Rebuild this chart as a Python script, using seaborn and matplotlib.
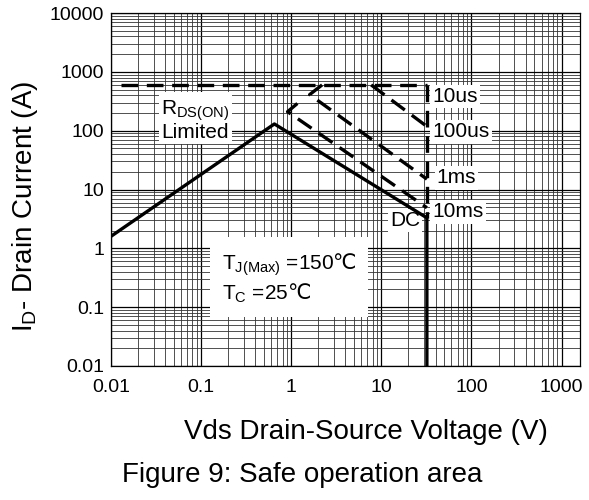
import numpy as np
import matplotlib
matplotlib.use('Agg')
import matplotlib.pyplot as plt
import matplotlib.ticker as mticker
import seaborn as sns

# --- data ---
rds_x = [0.013, 32]
rds_y = [600, 600]
lim_x = [32, 32]
lim_y = [600, 3.3]
dc_x = [0.01, 0.65, 32, 32]
dc_y = [1.6, 130, 3.3, 0.01]
us10_x = [7.7, 32]
us10_y = [600, 118]
us100_x = [2.2, 1.6, 32]
us100_y = [600, 410, 15]
ms1_x = [1.17, 0.91, 32]
ms1_y = [290, 210, 4.9]

x_ticks = [0.01, 0.1, 1, 10, 100, 1000]
x_labels = ['0.01', '0.1', '1', '10', '100', '1000']
y_ticks = [0.01, 0.1, 1, 10, 100, 1000, 10000]
y_labels = ['0.01', '0.1', '1', '10', '100', '1000', '10000']

sns.set_theme(style='white')
plt.rcParams['font.family'] = ['Liberation Sans', 'DejaVu Sans']
plt.rcParams['text.color'] = 'black'
plt.rcParams['mathtext.fontset'] = 'custom'
plt.rcParams['mathtext.rm'] = 'Liberation Sans'
plt.rcParams['mathtext.sf'] = 'DejaVu Sans'

fig = plt.figure(figsize=(5.89, 5.0), dpi=100)
ax = fig.add_axes([111/589, 134/500, 469/589, 353/500])

lw = 2.4
dash = (5, 2.6)
sns.lineplot(x=dc_x, y=dc_y, sort=False, estimator=None, color='black', lw=lw, ax=ax, zorder=5)
for xs, ys in [(rds_x, rds_y), (lim_x, lim_y), (us10_x, us10_y), (us100_x, us100_y), (ms1_x, ms1_y)]:
    sns.lineplot(x=xs, y=ys, sort=False, estimator=None, color='black', lw=lw,
                 dashes=False, ax=ax, zorder=5).lines[-1].set_dashes(dash)

ax.set_xscale('log')
ax.set_yscale('log')
ax.set_xlim(0.01, 1600)
ax.set_ylim(0.01, 10000)
ax.xaxis.set_major_locator(mticker.FixedLocator(x_ticks))
ax.xaxis.set_major_formatter(mticker.FixedFormatter(x_labels))
ax.yaxis.set_major_locator(mticker.FixedLocator(y_ticks))
ax.yaxis.set_major_formatter(mticker.FixedFormatter(y_labels))
ax.xaxis.set_minor_locator(mticker.LogLocator(base=10, subs=np.arange(2, 10)))
ax.yaxis.set_minor_locator(mticker.LogLocator(base=10, subs=np.arange(2, 10)))
ax.xaxis.set_minor_formatter(mticker.NullFormatter())
ax.yaxis.set_minor_formatter(mticker.NullFormatter())
ax.tick_params(which='both', length=0, labelsize=14, colors='black')
ax.tick_params(axis='x', pad=9)
ax.tick_params(axis='y', pad=5)
ax.grid(which='major', color='black', lw=0.9, zorder=0)
ax.grid(which='minor', color='#333333', lw=0.6, zorder=0)
ax.set_axisbelow(True)
for s in ax.spines.values():
    s.set_color('black')
    s.set_linewidth(0.9)

box = dict(facecolor='white', edgecolor='none', pad=1.5)
ax.text(0.036, 150, r'$\mathrm{R_{DS(ON)}}$' + '\nLimited', fontsize=15,
        ha='left', va='center', bbox=box, zorder=4, linespacing=1.0)
ax.text(37, 375, '10us', fontsize=15, ha='left', va='center', bbox=box, zorder=4)
ax.text(37, 95, '100us', fontsize=15, ha='left', va='center', bbox=box, zorder=4)
ax.text(41, 15.7, '1ms', fontsize=15, ha='left', va='center', bbox=box, zorder=4)
ax.text(37, 4.15, '10ms', fontsize=15, ha='left', va='center', bbox=box, zorder=4)
ax.text(27, 3.0, 'DC', fontsize=15, ha='right', va='center', bbox=box, zorder=4)
ax.text(0.17, 0.31, r'$\mathrm{T_{J(Max)}}$ =150$\mathsf{℃}$' + '\n' + r'$\mathrm{T_{C}}$ =25$\mathsf{℃}$',
        fontsize=15, ha='left', va='center', zorder=4, linespacing=1.25,
        bbox=dict(facecolor='white', edgecolor='none', boxstyle='square,pad=0.55'))

fig.text(25/589, 1 - 206/500, r'$\mathrm{I_D}$- Drain Current (A)', rotation=90,
         fontsize=20, ha='center', va='center')
fig.text(366/589, 1 - 432/500, 'Vds Drain-Source Voltage (V)', fontsize=20, ha='center', va='center')
fig.text(302/589, 1 - 475/500, 'Figure 9: Safe operation area', fontsize=20, ha='center', va='center')

fig.savefig('out.png', dpi=100)
